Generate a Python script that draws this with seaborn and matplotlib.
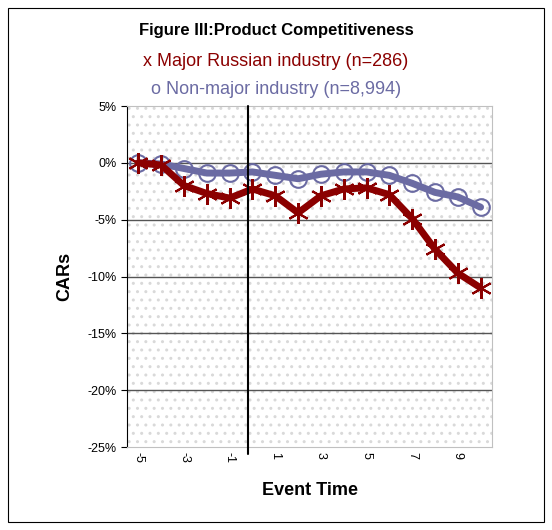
import numpy as np
import pandas as pd
import seaborn as sns
import matplotlib.pyplot as plt
from matplotlib.patches import Rectangle

event_time = list(range(-5, 11))
major_russian = [0.0, -0.2, -2.0, -2.7, -3.1, -2.3, -2.9, -4.4, -2.9, -2.3, -2.2, -2.8, -4.9, -7.6, -9.7, -11.0]
non_major = [0.0, -0.1, -0.5, -0.9, -0.9, -0.8, -1.1, -1.4, -1.0, -0.8, -0.8, -1.1, -1.8, -2.6, -3.0, -3.9]
y_ticks = [5, 0, -5, -10, -15, -20, -25]

sns.set_style("white")
plt.rcParams['font.family'] = ['Liberation Sans', 'DejaVu Sans']
plt.rcParams['hatch.color'] = '#d9d9d9'
plt.rcParams['text.color'] = 'black'
plt.rcParams['axes.labelcolor'] = 'black'
plt.rcParams['xtick.color'] = 'black'
plt.rcParams['ytick.color'] = 'black'

fig = plt.figure(figsize=(5.52, 5.30), dpi=100)
fig.patches.append(Rectangle((8 / 552, 8 / 530), 536 / 552, 514 / 530, transform=fig.transFigure,
                             fill=False, edgecolor='black', linewidth=0.8))
ax = fig.add_axes([127 / 552, 1 - 447 / 530, 365 / 552, 341 / 530])
ax.add_patch(Rectangle((0, 0), 1, 1, transform=ax.transAxes, facecolor='white',
                       hatch='..', edgecolor='#d9d9d9', linewidth=0, zorder=0))

df = pd.DataFrame({"t": event_time, "major": major_russian, "non": non_major})
sns.lineplot(data=df, x="t", y="non", ax=ax, color='#6b6ba3', linewidth=5, zorder=3)
ax.plot(df.t, df.non, 'o', markersize=12, markerfacecolor='none', markeredgecolor='#6b6ba3',
        markeredgewidth=1.5, zorder=3)
sns.lineplot(data=df, x="t", y="major", ax=ax, color='#8b0000', linewidth=5, zorder=4)
ax.plot(df.t, df.major, marker=(6, 2, 0), linestyle='none', markersize=15, color='#8b0000',
        markeredgewidth=1.5, zorder=4)

ax.set_xlim(-5.5, 10.5)
ax.set_ylim(-25, 5)
ax.set_yticks(y_ticks)
ax.set_yticklabels([f"{v}%" for v in y_ticks], fontsize=9)
ax.set_xticks(event_time[::2])
ax.set_xticklabels([str(v) for v in event_time[::2]], rotation=-90, fontsize=9)
for v in y_ticks[1:-1]:
    ax.axhline(v, color='#555555', linewidth=1, zorder=1)
ax.axvline(-0.2, ymin=-0.02, ymax=1, color='black', linewidth=1.5, zorder=5, clip_on=False)
for s in ['top', 'right']:
    ax.spines[s].set_color('#c0c0c0')
ax.spines['left'].set_color('black')
ax.spines['bottom'].set_color('#c0c0c0')
ax.tick_params(axis='y', length=4, left=True, color='black')
ax.tick_params(axis='x', length=0)

ax.set_xlabel("Event Time", fontsize=13, fontweight='bold', labelpad=14)
ax.set_ylabel("CARs", fontsize=13, fontweight='bold', labelpad=10)

fig.text(0.5, 1 - 31 / 530, "Figure III:Product Competitiveness", ha='center', va='center',
         fontsize=12, fontweight='bold')
fig.text(0.5, 1 - 61 / 530, "x Major Russian industry (n=286)", ha='center', va='center',
         fontsize=13, color='#8b0000')
fig.text(0.5, 1 - 89 / 530, "o Non-major industry (n=8,994)", ha='center', va='center',
         fontsize=13, color='#6b6ba3')

fig.savefig("out.png", dpi=100)
